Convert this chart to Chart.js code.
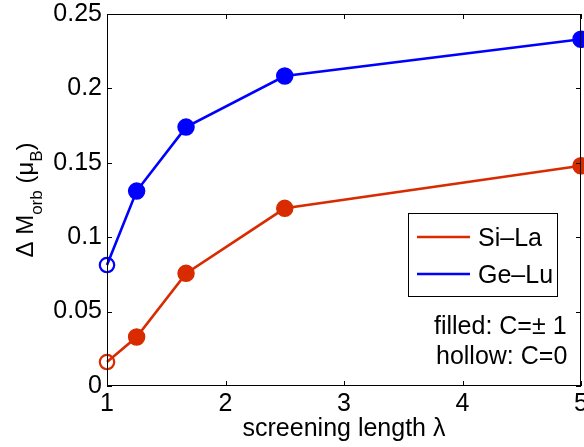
<!DOCTYPE html>
<html>
<head>
<meta charset="utf-8">
<script src="https://cdn.jsdelivr.net/npm/chart.js@4.4.0/dist/chart.umd.min.js"></script>
<style>
html, body { margin: 0; padding: 0; background: #fff; }
</style>
</head>
<body>
<canvas id="graficoMorb" width="584" height="447"></canvas>
<script>
// screening length (x) and orbital moment change (y)
var lambdaValues = [1, 1.25, 1.667, 2.5, 5];
var siLaValues = [0.0161, 0.0329, 0.0757, 0.1194, 0.148];
var geLuValues = [0.0813, 0.131, 0.174, 0.2083, 0.233];
var xTickValues = [1, 2, 3, 4, 5];
var yTickValues = [0, 0.05, 0.1, 0.15, 0.2, 0.25];
var seriesLabels = ['Si\u2013La', 'Ge\u2013Lu'];

var RED = 'rgb(217, 43, 0)';
var BLUE = 'rgb(0, 0, 255)';
var FONT = '"Liberation Sans", Arial, Helvetica, sans-serif';

function toPoints(ys) {
    return lambdaValues.map(function (x, i) { return { x: x, y: ys[i] }; });
}

function makeDataset(label, ys, color) {
    return {
        label: label,
        data: toPoints(ys),
        borderColor: color,
        borderWidth: 2.6,
        fill: false,
        tension: 0,
        clip: false,
        // first point (lambda = 1) is hollow: C = 0
        pointRadius: function (c) { return c.dataIndex === 0 ? 7.2 : 8; },
        pointBorderWidth: function (c) { return c.dataIndex === 0 ? 2.2 : 1.5; },
        pointBackgroundColor: function (c) { return c.dataIndex === 0 ? 'rgba(0,0,0,0)' : color; },
        pointBorderColor: color,
        pointHoverRadius: 8
    };
}

// no extra room for the edge tick labels (the "5" is cut off in the original)
function noPadding(s) {
    s.getPadding = function () { return { left: 0, top: 0, right: 0, bottom: 0 }; };
}

// box, inward ticks, y title with subscripts, legend and note
var decor = {
    id: 'decor',
    afterDraw: function (chart) {
        var ctx = chart.ctx;
        var a = chart.chartArea;
        var xs = chart.scales.x, ys = chart.scales.y;
        ctx.save();
        ctx.strokeStyle = '#000';
        ctx.lineWidth = 1;
        ctx.strokeRect(a.left + 0.5, a.top + 0.5, a.right - a.left - 1, a.bottom - a.top - 1);
        ctx.beginPath();
        xTickValues.forEach(function (v) {
            var p = Math.round(xs.getPixelForValue(v)) + 0.5;
            ctx.moveTo(p, a.bottom); ctx.lineTo(p, a.bottom - 5);
            ctx.moveTo(p, a.top); ctx.lineTo(p, a.top + 5);
        });
        yTickValues.forEach(function (v) {
            var p = Math.round(ys.getPixelForValue(v)) + 0.5;
            ctx.moveTo(a.left, p); ctx.lineTo(a.left + 5, p);
            ctx.moveTo(a.right, p); ctx.lineTo(a.right - 5, p);
        });
        ctx.stroke();

        // y axis title: Δ M_orb (μ_B)
        var parts = [
            ['\u0394 M', 24, 0],
            ['orb', 17, 9],
            [' (\u03bc', 24, 0],
            ['B', 17, 9],
            [')', 24, 0]
        ];
        ctx.fillStyle = '#000';
        ctx.textBaseline = 'alphabetic';
        var total = 0;
        parts.forEach(function (p) {
            ctx.font = p[1] + 'px ' + FONT;
            total += ctx.measureText(p[0]).width;
        });
        ctx.translate(33, (a.top + a.bottom) / 2);
        ctx.rotate(-Math.PI / 2);
        var cx = -total / 2;
        parts.forEach(function (p) {
            ctx.font = p[1] + 'px ' + FONT;
            ctx.fillText(p[0], cx, p[2]);
            cx += ctx.measureText(p[0]).width;
        });
        ctx.setTransform(1, 0, 0, 1, 0, 0);

        // legend box
        var bx = a.right - 173, by = a.top + 199, bw = 149, bh = 83;
        ctx.fillStyle = '#fff';
        ctx.fillRect(bx, by, bw, bh);
        ctx.strokeStyle = '#000';
        ctx.lineWidth = 1;
        ctx.strokeRect(bx + 0.5, by + 0.5, bw, bh);
        var colors = [RED, BLUE];
        ctx.font = '25px ' + FONT;
        seriesLabels.forEach(function (lab, i) {
            var ly = by + 24 + i * 37;
            ctx.strokeStyle = colors[i];
            ctx.lineWidth = 2.6;
            ctx.beginPath();
            ctx.moveTo(bx + 9, ly);
            ctx.lineTo(bx + 62, ly);
            ctx.stroke();
            ctx.fillStyle = '#000';
            ctx.textAlign = 'left';
            ctx.fillText(lab, bx + 70, ly + 9);
        });

        // note on marker meaning
        ctx.font = '25px ' + FONT;
        ctx.fillStyle = '#000';
        ctx.fillText('filled: C=\u00b1 1', a.left + 327, a.top + 320);
        ctx.fillText('hollow: C=0', a.left + 329, a.top + 350);
        ctx.restore();
    }
};

var ctx = document.getElementById('graficoMorb').getContext('2d');
var graficoMorb = new Chart(ctx, {
    type: 'line',
    data: {
        datasets: [
            makeDataset(seriesLabels[0], siLaValues, RED),
            makeDataset(seriesLabels[1], geLuValues, BLUE)
        ]
    },
    options: {
        responsive: false,
        animation: false,
        devicePixelRatio: 1,
        layout: { autoPadding: false, padding: { top: 14, right: 3, left: 0, bottom: 0 } },
        plugins: {
            legend: { display: false },
            tooltip: { enabled: false }
        },
        scales: {
            x: {
                type: 'linear',
                min: 1,
                max: 5,
                afterBuildTicks: function (s) {
                    s.ticks = xTickValues.map(function (v) { return { value: v }; });
                    noPadding(s);
                },
                afterFit: function (s) { s.height = 61; s.paddingLeft = 0; s.paddingRight = 0; },
                grid: { display: false, drawTicks: false, tickLength: 0 },
                border: { display: false },
                ticks: {
                    color: '#000',
                    padding: 3,
                    maxRotation: 0,
                    font: { family: FONT, size: 25 },
                    callback: function (v) { return String(v); }
                },
                title: {
                    display: true,
                    text: 'screening length \u03bb',
                    color: '#000',
                    font: { family: FONT, size: 25 },
                    padding: { top: 0, bottom: 3 }
                }
            },
            y: {
                min: 0,
                max: 0.25,
                afterBuildTicks: function (s) {
                    s.ticks = yTickValues.map(function (v) { return { value: v }; });
                    noPadding(s);
                },
                afterFit: function (s) { s.width = 107; s.paddingTop = 0; s.paddingBottom = 0; },
                grid: { display: false, drawTicks: false, tickLength: 0 },
                border: { display: false },
                ticks: {
                    color: '#000',
                    padding: 5,
                    font: { family: FONT, size: 25 },
                    callback: function (v) { return String(+Number(v).toFixed(2)); }
                }
            }
        }
    },
    plugins: [decor]
});
</script>
</body>
</html>
